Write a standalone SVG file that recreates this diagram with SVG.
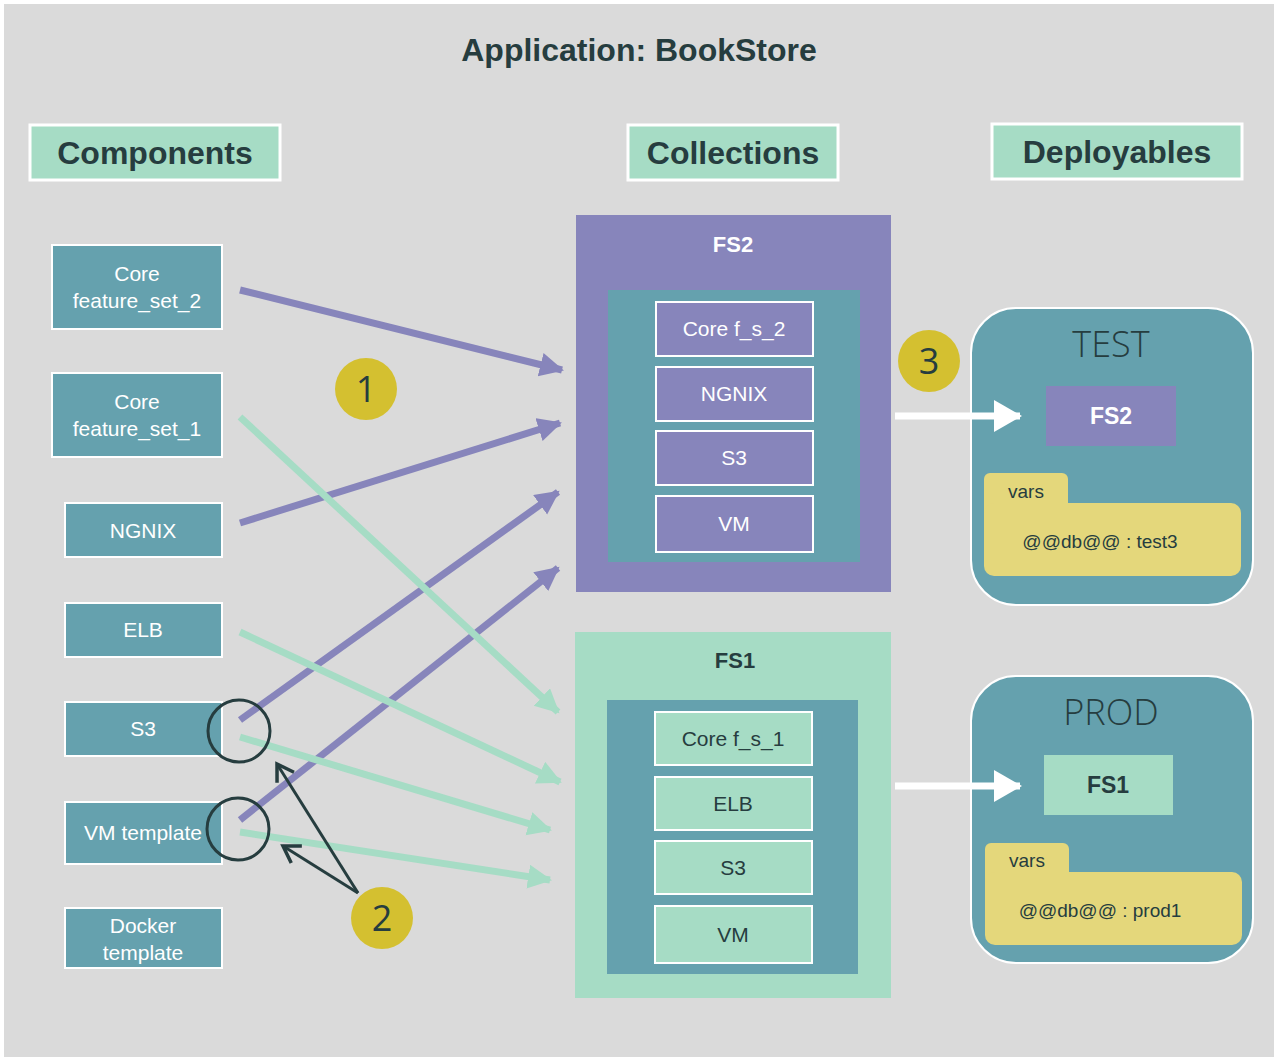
<svg xmlns="http://www.w3.org/2000/svg" width="1278" height="1061" viewBox="0 0 1278 1061">
<style>
.t{font-family:"Liberation Sans",Arial,sans-serif;fill:#fff;text-anchor:middle}
.h{font-family:"Liberation Sans",Arial,sans-serif;font-weight:bold;font-size:32px;fill:#263d3f;text-anchor:middle}
.comp{fill:#65a1ae;stroke:#fff;stroke-width:2}
.hdr{fill:#a6dcc5;stroke:#fff;stroke-width:3}
.pi{fill:#8785bb;stroke:#fff;stroke-width:2}
.mi{fill:#a6dcc5;stroke:#fff;stroke-width:2}
.p{stroke:#8785bb;stroke-width:7;fill:none}
.m{stroke:#a6dcc5;stroke-width:7;fill:none}
.w{stroke:#fff;stroke-width:7;fill:none}
.d{stroke:#263d3f;stroke-width:3;fill:none}
.g{fill:#d4c030}
.n{font-family:"Open Sans","Liberation Sans",sans-serif;font-size:36px;fill:#263d3f;text-anchor:middle}
.dk{font-family:"Liberation Sans",Arial,sans-serif;fill:#263d3f;text-anchor:middle}
.big{font-family:"Open Sans","Liberation Sans",sans-serif;font-size:36px;fill:#263d3f;text-anchor:middle;font-weight:300}
</style>
<defs>
<marker id="ap" markerUnits="userSpaceOnUse" markerWidth="30" markerHeight="30" refX="22" refY="12" orient="auto"><path d="M0,0 L24,12 L0,24 Z" fill="#8785bb"/></marker>
<marker id="am" markerUnits="userSpaceOnUse" markerWidth="30" markerHeight="30" refX="22" refY="12" orient="auto"><path d="M0,0 L24,12 L0,24 Z" fill="#a6dcc5"/></marker>
<marker id="aw" markerUnits="userSpaceOnUse" markerWidth="30" markerHeight="34" refX="26" refY="16" orient="auto"><path d="M0,0 L28,16 L0,32 Z" fill="#fff"/></marker>
<marker id="ad" markerUnits="userSpaceOnUse" markerWidth="26" markerHeight="26" refX="20" refY="12" orient="auto"><path d="M4,2 L20,12 L4,22" fill="none" stroke="#263d3f" stroke-width="3.5"/></marker>
</defs>
<rect x="0" y="0" width="1278" height="1061" fill="#fff"/>
<rect x="4" y="4" width="1270" height="1053" fill="#dadada"/>
<text x="639" y="61" class="h" style="font-size:32px">Application: BookStore</text>
<g id="headers">
<rect class="hdr" x="30" y="125" width="250" height="55"/><text x="155" y="164" class="h">Components</text>
<rect class="hdr" x="628" y="125" width="210" height="55"/><text x="733" y="164" class="h">Collections</text>
<rect class="hdr" x="992" y="124" width="250" height="55"/><text x="1117" y="163" class="h">Deployables</text>
</g>
<g id="components">
<g id="c-core2"><rect class="comp" x="52" y="245" width="170" height="84"/><text class="t" font-size="21" x="137" y="281">Core</text><text class="t" font-size="21" x="137" y="308">feature_set_2</text></g>
<g id="c-core1"><rect class="comp" x="52" y="373" width="170" height="84"/><text class="t" font-size="21" x="137" y="409">Core</text><text class="t" font-size="21" x="137" y="436">feature_set_1</text></g>
<g id="c-ngnix"><rect class="comp" x="65" y="503" width="157" height="54"/><text class="t" font-size="21" x="143" y="538">NGNIX</text></g>
<g id="c-elb"><rect class="comp" x="65" y="603" width="157" height="54"/><text class="t" font-size="21" x="143" y="637">ELB</text></g>
<g id="c-s3"><rect class="comp" x="65" y="702" width="157" height="54"/><text class="t" font-size="21" x="143" y="736">S3</text></g>
<g id="c-vm"><rect class="comp" x="65" y="802" width="157" height="62"/><text class="t" font-size="21" x="143" y="840">VM template</text></g>
<g id="c-docker"><rect class="comp" x="65" y="908" width="157" height="60"/><text class="t" font-size="21" x="143" y="933">Docker</text><text class="t" font-size="21" x="143" y="960">template</text></g>
</g>
<g id="fs2">
<rect x="576" y="215" width="315" height="377" fill="#8785bb"/>
<text class="t" font-size="22" font-weight="bold" x="733" y="252">FS2</text>
<rect x="608" y="290" width="252" height="272" fill="#65a1ae"/>
<rect class="pi" x="656" y="302" width="157" height="54"/><text class="t" font-size="21" x="734" y="336">Core f_s_2</text>
<rect class="pi" x="656" y="367" width="157" height="54"/><text class="t" font-size="21" x="734" y="401">NGNIX</text>
<rect class="pi" x="656" y="431" width="157" height="54"/><text class="t" font-size="21" x="734" y="465">S3</text>
<rect class="pi" x="656" y="496" width="157" height="56"/><text class="t" font-size="21" x="734" y="531">VM</text>
</g>
<g id="fs1">
<rect x="575" y="632" width="316" height="366" fill="#a6dcc5"/>
<text class="dk" font-size="22" font-weight="bold" x="735" y="668">FS1</text>
<rect x="607" y="700" width="251" height="274" fill="#65a1ae"/>
<rect class="mi" x="655" y="712" width="157" height="53"/><text class="dk" font-size="21" x="733" y="746">Core f_s_1</text>
<rect class="mi" x="655" y="777" width="157" height="53"/><text class="dk" font-size="21" x="733" y="811">ELB</text>
<rect class="mi" x="655" y="841" width="157" height="53"/><text class="dk" font-size="21" x="733" y="875">S3</text>
<rect class="mi" x="655" y="906" width="157" height="57"/><text class="dk" font-size="21" x="733" y="942">VM</text>
</g>
<g id="test">
<rect x="971" y="308" width="282" height="297" rx="45" fill="#65a1ae" stroke="#fff" stroke-width="2"/>
<text class="big" x="1111" y="357">TEST</text>
<rect x="1046" y="386" width="130" height="60" fill="#8785bb"/>
<text class="t" font-size="23" font-weight="bold" x="1111" y="424">FS2</text>
<rect x="984" y="473" width="84" height="45" rx="6" fill="#e4d77b"/>
<rect x="984" y="503" width="257" height="73" rx="10" fill="#e4d77b"/>
<text class="dk" font-size="19" x="1026" y="498">vars</text>
<text class="dk" font-size="19" x="1100" y="548">@@db@@ : test3</text>
</g>
<g id="prod">
<rect x="971" y="676" width="282" height="287" rx="45" fill="#65a1ae" stroke="#fff" stroke-width="2"/>
<text class="big" x="1111" y="725">PROD</text>
<rect x="1044" y="755" width="129" height="60" fill="#a6dcc5"/>
<text class="dk" font-size="23" font-weight="bold" x="1108" y="793">FS1</text>
<rect x="985" y="843" width="84" height="45" rx="6" fill="#e4d77b"/>
<rect x="985" y="872" width="257" height="73" rx="10" fill="#e4d77b"/>
<text class="dk" font-size="19" x="1027" y="867">vars</text>
<text class="dk" font-size="19" x="1100" y="917">@@db@@ : prod1</text>
</g>
<g id="connectors">
<line class="p" x1="240" y1="290" x2="562" y2="370" marker-end="url(#ap)"/>
<line class="p" x1="240" y1="523" x2="560" y2="423" marker-end="url(#ap)"/>
<line class="p" x1="240" y1="720" x2="558" y2="492" marker-end="url(#ap)"/>
<line class="p" x1="240" y1="820" x2="558" y2="568" marker-end="url(#ap)"/>
<line class="m" x1="240" y1="417" x2="558" y2="712" marker-end="url(#am)"/>
<line class="m" x1="240" y1="632" x2="560" y2="782" marker-end="url(#am)"/>
<line class="m" x1="240" y1="737" x2="550" y2="830" marker-end="url(#am)"/>
<line class="m" x1="240" y1="832" x2="550" y2="880" marker-end="url(#am)"/>
<line class="w" x1="895" y1="416" x2="1020" y2="416" marker-end="url(#aw)"/>
<line class="w" x1="895" y1="786" x2="1020" y2="786" marker-end="url(#aw)"/>
<line class="d" x1="358" y1="893" x2="277" y2="764" marker-end="url(#ad)"/>
<line class="d" x1="358" y1="893" x2="283" y2="846" marker-end="url(#ad)"/>
</g>
<g id="highlights">
<circle class="d" cx="239" cy="731" r="31"/>
<circle class="d" cx="238" cy="829" r="31"/>
</g>
<g id="badges">
<circle class="g" cx="366" cy="389" r="31"/><text class="n" x="366" y="402">1</text>
<circle class="g" cx="929" cy="361" r="31"/><text class="n" x="929" y="374">3</text>
<circle class="g" cx="382" cy="918" r="31"/><text class="n" x="382" y="931">2</text>
</g>
</svg>
